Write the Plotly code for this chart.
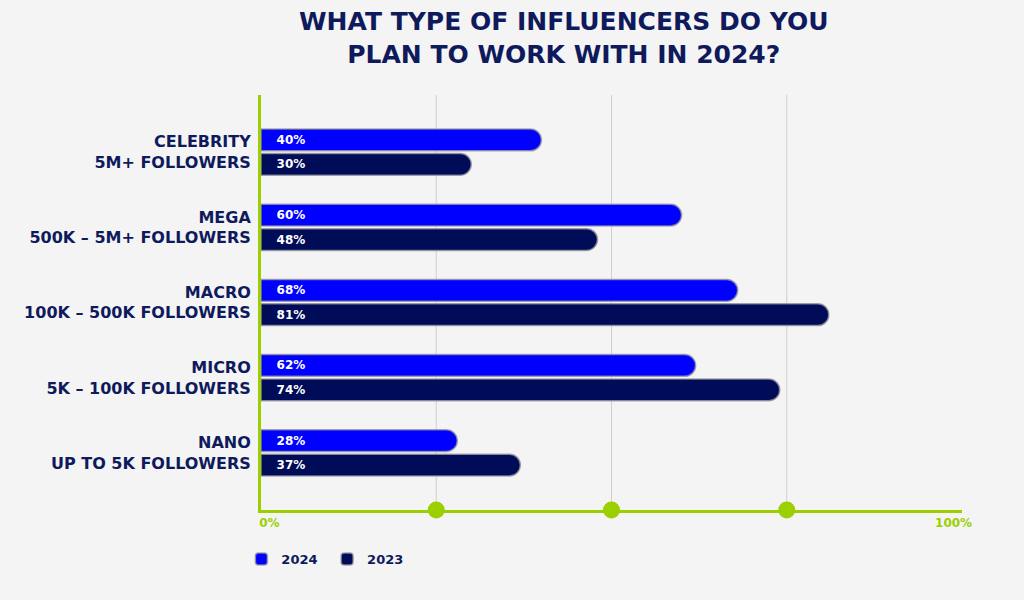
import plotly.graph_objects as go

# categories (top to bottom)
categories = [
    'CELEBRITY<br>5M+ FOLLOWERS',
    'MEGA<br>500K – 5M+ FOLLOWERS',
    'MACRO<br>100K – 500K FOLLOWERS',
    'MICRO<br>5K – 100K FOLLOWERS',
    'NANO<br>UP TO 5K FOLLOWERS',
]
values_2024 = [40, 60, 68, 62, 28]
values_2023 = [30, 48, 81, 74, 37]
grid_marks = [25, 50, 75]
axis_labels = ['0%', '100%']

NAVY = '#0f1a5c'
BLUE = '#0000ff'
DARK = '#000c58'
GREEN = '#9bcf00'
BG = '#f4f4f4'
OUTLINE = 'rgba(150,150,160,0.8)'
PAD = '\u00a0\u00a0\u00a0'

fig = go.Figure()

# 2024 bars
fig.add_trace(go.Bar(
    y=categories,
    x=values_2024,
    name='2024\u00a0',
    orientation='h',
    marker=dict(color=BLUE, line=dict(color=OUTLINE, width=1.5), cornerradius=11),
    text=[f'{PAD}{v}%' for v in values_2024],
    textposition='inside',
    insidetextanchor='start',
    textfont=dict(color='white', size=12, family='DejaVu Sans', weight='bold'),
))

# 2023 bars
fig.add_trace(go.Bar(
    y=categories,
    x=values_2023,
    name='2023',
    orientation='h',
    marker=dict(color=DARK, line=dict(color=OUTLINE, width=1.5), cornerradius=11),
    text=[f'{PAD}{v}%' for v in values_2023],
    textposition='inside',
    insidetextanchor='start',
    textfont=dict(color='white', size=12, family='DejaVu Sans', weight='bold'),
))

# green dots on the x axis
fig.add_trace(go.Scatter(
    x=grid_marks,
    y=[0] * len(grid_marks),
    yaxis='y2',
    mode='markers',
    marker=dict(color=GREEN, size=17),
    cliponaxis=False,
    showlegend=False,
    hoverinfo='skip',
))

# vertical grid lines
for g in grid_marks:
    fig.add_shape(type='line', x0=g, x1=g, y0=0, y1=1, xref='x', yref='paper',
                  line=dict(color='#cfcfcf', width=1), layer='below')

# title
fig.add_annotation(
    text='WHAT TYPE OF INFLUENCERS DO YOU<br>PLAN TO WORK WITH IN 2024?',
    xref='paper', yref='paper',
    x=0.432, y=1, yshift=24,
    xanchor='center', yanchor='bottom',
    showarrow=False,
    font=dict(family='DejaVu Sans', size=25, color=NAVY, weight='bold'),
)

fig.update_layout(
    width=1024,
    height=600,
    paper_bgcolor=BG,
    plot_bgcolor=BG,
    margin=dict(l=261, r=62, t=95, b=90),
    barmode='group',
    bargap=0.35,
    bargroupgap=0.11,
    xaxis=dict(
        range=[0, 100],
        tickvals=[1.2, 98.8],
        ticktext=axis_labels,
        tickfont=dict(family='DejaVu Sans', size=12, color=GREEN, weight='bold'),
        showgrid=False,
        zeroline=False,
        showline=True,
        linecolor=GREEN,
        linewidth=3,
        ticks='',
        fixedrange=True,
    ),
    yaxis=dict(
        range=[4.76, -0.76],
        tickfont=dict(family='DejaVu Sans', size=16, color=NAVY, weight='bold'),
        showgrid=False,
        showline=True,
        linecolor=GREEN,
        linewidth=3,
        ticks='',
        ticklabelstandoff=4,
    ),
    yaxis2=dict(
        overlaying='y',
        range=[0, 1],
        visible=False,
    ),
    legend=dict(
        orientation='h',
        x=-0.028,
        xanchor='left',
        y=-0.082,
        yanchor='top',
        font=dict(family='DejaVu Sans', size=13, color=NAVY, weight='bold'),
        traceorder='normal',
    ),
    showlegend=True,
)

fig.write_html('out.html', config={'displayModeBar': False},
               post_script="document.body.style.margin='0';")
